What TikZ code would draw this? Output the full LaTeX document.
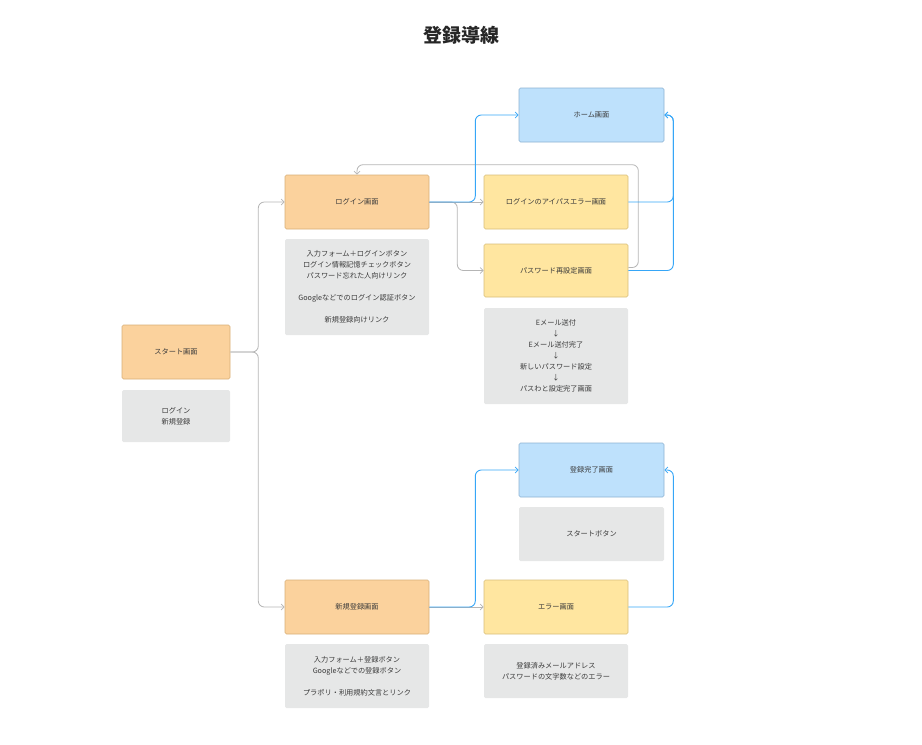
\documentclass[tikz,border=0pt]{standalone}
\usepackage{fontspec}
\setmainfont{Noto Sans CJK JP}
\usetikzlibrary{arrows.meta}
\definecolor{orF}{HTML}{FBD29D}
\definecolor{orD}{HTML}{D8AF78}
\definecolor{yeF}{HTML}{FFE6A0}
\definecolor{yeD}{HTML}{D8BE7A}
\definecolor{blF}{HTML}{BEE1FC}
\definecolor{blD}{HTML}{8DB3D2}
\definecolor{ntF}{HTML}{E6E7E7}
\definecolor{gLine}{HTML}{B5B5B5}
\definecolor{bLine}{HTML}{36A6F7}
\definecolor{txt}{HTML}{3A3A3A}
\begin{document}
\begin{tikzpicture}[x=1pt,y=-1pt,
  box/.style={rounded corners=1.5pt, line width=0.6pt, minimum width=144pt, minimum height=54pt, inner sep=0pt, font=\fontsize{7.2}{11}\selectfont, text=txt, align=center},
  orbox/.style={box, draw=orD, fill=orF},
  yebox/.style={box, draw=yeD, fill=yeF},
  blbox/.style={box, draw=blD, fill=blF},
  ntbox/.style={box, fill=ntF},
  gc/.style={draw=gLine, line width=0.8pt, rounded corners=6pt, -{Straight Barb[length=3pt,width=6pt,line width=0.7pt]}},
  bc/.style={draw=bLine, line width=0.9pt, rounded corners=6pt, -{Straight Barb[length=3pt,width=6pt,line width=0.8pt]}}
]
\useasboundingbox (0,0) rectangle (922,745);

\node[font=\fontsize{19}{22}\selectfont\bfseries, text=black!85] (title) at (461,35) {登録導線};

\node[orbox, minimum width=108pt] (start) at (176,352) {スタート画面};
\node[ntbox, minimum width=108pt, minimum height=52pt] (startnote) at (176,416) {ログイン\\新規登録};

\node[orbox] (login) at (357,202) {ログイン画面};
\node[ntbox, minimum height=96pt] (loginnote) at (357,287) {入力フォーム＋ログインボタン\\ログイン情報記憶チェックボタン\\パスワード忘れた人向けリンク\\[11pt]Googleなどでのログイン認証ボタン\\[11pt]新規登録向けリンク};

\node[blbox, minimum width=145pt] (home) at (591.5,115) {ホーム画面};
\node[yebox] (lerr) at (556,202) {ログインのアイパスエラー画面};
\node[yebox, minimum height=53pt] (pwr) at (556,270.5) {パスワード再設定画面};
\node[ntbox, minimum height=96pt] (pwnote) at (556,356) {Eメール送付\\↓\\Eメール送付完了\\↓\\新しいパスワード設定\\↓\\パスわと設定完了画面};

\node[blbox, minimum width=145pt] (regdone) at (591.5,470) {登録完了画面};
\node[ntbox, minimum width=145pt] (startbtn) at (591.5,534) {スタートボタン};

\node[orbox] (signup) at (357,607) {新規登録画面};
\node[yebox] (err) at (556,607) {エラー画面};
\node[ntbox, minimum height=64pt] (signupnote) at (357,676) {入力フォーム＋登録ボタン\\Googleなどでの登録ボタン\\[11pt]プラポリ・利用規約文言とリンク};
\node[ntbox] (errnote) at (556,671) {登録済みメールアドレス\\パスワードの文字数などのエラー};

% connectors
\draw[gc] (start.east) -- ++(28,0) |- (login.west);
\draw[gc] (start.east) -- ++(28,0) |- (signup.west);

\draw[gc] (login.east) -- (lerr.west);
\draw[gc] (login.east) -- ++(28,0) |- (pwr.west);
\draw[gc] ([yshift=3pt]pwr.east) -- ++(10,0) |- ([yshift=10pt]login.north) -- (login.north);
\draw[bc] (login.east) -- ++(46,0) |- (home.west);
\draw[bc] (lerr.east) -- ++(45,0) |- (home.east);
\draw[bc] (pwr.east) -- ++(45,0) |- (home.east);

\draw[gc] (signup.east) -- (err.west);
\draw[bc] (signup.east) -- ++(46,0) |- (regdone.west);
\draw[bc] (err.east) -- ++(45,0) |- (regdone.east);
\end{tikzpicture}
\end{document}
